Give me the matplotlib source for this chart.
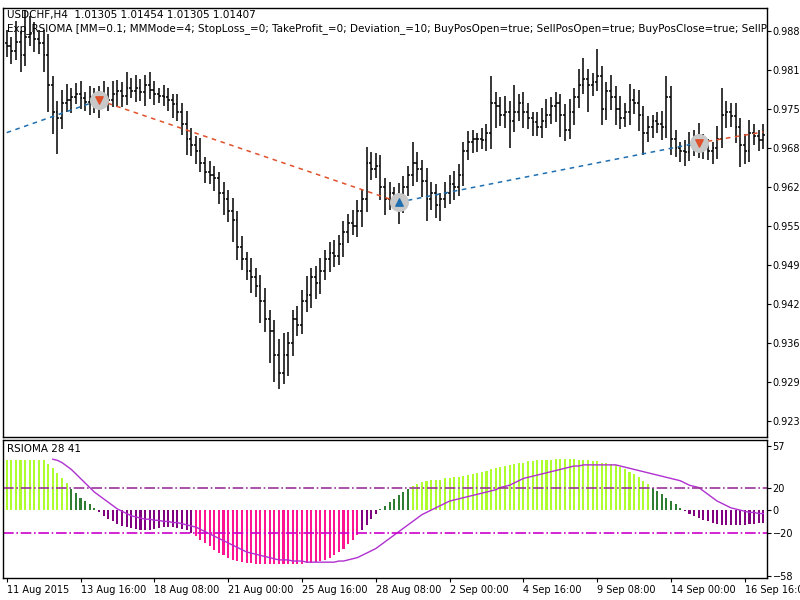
import numpy as np
import matplotlib
matplotlib.use("Agg")
import matplotlib.pyplot as plt

# ---- data (prices in pips: 9855 -> 0.9855) ----
closes = [9855, 9848, 9862, 9840, 9870, 9878, 9868, 9860, 9840, 9790,
          9745, 9735, 9760, 9765, 9770, 9775, 9768, 9762, 9770, 9762,
          9770, 9772, 9765, 9775, 9780, 9772, 9785, 9780, 9785, 9778,
          9790, 9782, 9775, 9772, 9770, 9765, 9758, 9745, 9725, 9700,
          9690, 9680, 9660, 9645, 9640, 9635, 9610, 9600, 9580, 9565,
          9520, 9500, 9480, 9470, 9455, 9430, 9400, 9380, 9340, 9310,
          9340, 9360, 9400, 9390, 9430, 9440, 9470, 9460, 9480, 9500,
          9510, 9505, 9525, 9545, 9560, 9555, 9580, 9600, 9660, 9650,
          9655, 9620, 9600, 9610, 9605, 9595, 9620, 9640, 9660, 9650,
          9630, 9600, 9610, 9590, 9600, 9610, 9625, 9620, 9640, 9680,
          9695, 9700, 9700, 9698, 9710, 9760, 9755, 9740, 9745, 9730,
          9745, 9760, 9745, 9735, 9728, 9720, 9730, 9740, 9755, 9760,
          9740, 9715, 9745, 9770, 9790, 9800, 9790, 9795, 9805, 9750,
          9780, 9770, 9750, 9735, 9745, 9765, 9760, 9740, 9710, 9720,
          9730, 9725, 9720, 9770, 9700, 9685, 9680, 9678, 9690, 9700,
          9690, 9685, 9680, 9685, 9700, 9740, 9745, 9738, 9720, 9690,
          9680, 9710, 9705, 9698, 9707]
# wick lengths beyond the open/close, in pips
up_wick = [22, 15, 36, 18, 45, 27, 18, 15, 22, 36, 15, 18, 22, 27, 15, 18, 22, 11, 18, 15,
           18, 25, 15, 22, 18, 15, 27, 18, 22, 15, 18, 22, 15, 11, 18, 15, 11, 18, 15, 22,
           18, 15, 22, 11, 18, 15, 11, 18, 15, 22, 15, 18, 11, 22, 15, 18, 22, 15, 18, 27,
           36, 18, 15, 22, 18, 32, 15, 18, 22, 15, 18, 22, 15, 18, 15, 22, 18, 15, 27, 18,
           22, 18, 15, 18, 11, 22, 18, 15, 36, 18, 15, 22, 18, 15, 11, 18, 15, 22, 18, 15,
           18, 15, 11, 18, 15, 45, 18, 15, 27, 18, 45, 15, 18, 15, 11, 18, 22, 27, 15, 18,
           15, 18, 22, 15, 27, 36, 18, 15, 45, 18, 15, 27, 18, 22, 15, 27, 18, 22, 15, 18,
           11, 15, 22, 36, 18, 15, 11, 18, 22, 15, 27, 18, 15, 11, 22, 45, 18, 15, 22, 15,
           18, 22, 15, 11, 18]
dn_wick = [18, 22, 15, 27, 18, 15, 22, 18, 27, 45, 36, 60, 18, 15, 22, 11, 18, 15, 22, 18,
           27, 15, 18, 11, 22, 18, 15, 11, 18, 15, 22, 15, 18, 11, 15, 18, 22, 15, 18, 27,
           18, 22, 15, 18, 15, 22, 18, 27, 18, 36, 22, 18, 15, 27, 18, 36, 22, 54, 45, 27,
           18, 36, 22, 18, 15, 18, 22, 27, 18, 15, 22, 18, 15, 22, 18, 15, 18, 27, 22, 18,
           15, 22, 27, 18, 22, 36, 18, 15, 18, 22, 27, 36, 18, 22, 27, 15, 18, 22, 15, 18,
           15, 18, 22, 15, 18, 27, 36, 18, 22, 45, 18, 15, 27, 18, 22, 15, 18, 11, 15, 27,
           36, 18, 15, 22, 18, 15, 45, 18, 15, 27, 18, 22, 27, 18, 15, 22, 18, 27, 36, 15,
           18, 15, 22, 18, 27, 15, 18, 22, 15, 18, 22, 18, 15, 22, 18, 15, 22, 18, 27, 36,
           22, 18, 15, 18, 15]

hist = [44, 44, 44, 44, 44, 44, 44, 44, 44, 41,
        37, 33, 28, 24, 19, 15, 11, 8, 5, 2,
        -2, -5, -8, -10, -12, -14, -15, -16, -17, -18,
        -18, -18, -17, -16, -15, -15, -15, -16, -17, -18,
        -20, -23, -26, -29, -32, -35, -38, -40, -42, -44,
        -45, -46, -47, -47, -48, -48, -48, -48, -48, -48,
        -48, -48, -48, -48, -48, -47, -47, -46, -45, -44,
        -42, -40, -37, -34, -30, -26, -22, -18, -13, -8,
        -3, 1, 4, 7, 10, 13, 16, 19, 21, 23,
        25, 26, 27, 27, 27, 28, 28, 29, 29, 30,
        31, 32, 33, 34, 35, 36, 37, 38, 39, 40,
        41, 42, 42, 43, 43, 44, 44, 44, 44, 45,
        45, 45, 45, 45, 44, 44, 44, 43, 43, 42,
        42, 41, 40, 38, 36, 34, 32, 29, 26, 23,
        20, 17, 14, 11, 8, 5, 2, -1, -3, -5,
        -7, -9, -10, -11, -12, -13, -13, -13, -13, -13,
        -13, -12, -12, -11, -11]
signal = [np.nan] * 10 + [
    45, 44, 42, 39, 36, 32, 28, 24, 20, 16,
    13, 10, 7, 4, 1, -1, -3, -5, -6, -7,
    -8, -8, -9, -9, -10, -10, -11, -11, -12, -13,
    -14, -15, -17, -19, -21, -23, -25, -27, -29, -31,
    -33, -35, -37, -38, -39, -40, -41, -42, -43, -44,
    -44, -44, -45, -45, -45, -46, -46, -46, -46, -46,
    -46, -46, -45, -45, -44, -43, -42, -40, -38, -36,
    -34, -31, -28, -25, -22, -19, -16, -13, -10, -7,
    -4, -2, 0, 2, 4, 6, 8, 9, 10, 11,
    12, 13, 14, 15, 16, 17, 18, 20, 21, 22,
    24, 26, 28, 29, 30, 31, 32, 33, 34, 35,
    36, 37, 38, 39, 39, 40, 40, 40, 40, 40,
    40, 40, 40, 39, 38, 37, 36, 35, 34, 33,
    32, 31, 30, 29, 28, 27, 26, 24, 22, 21,
    20, 17, 14, 11, 8, 6, 4, 2, 1, 0,
    -1, -2, -2, -3, -3]

deal_bars = [0, 20, 85, 150, 164]
deal_prices = [0.9711, 0.9765, 0.9595, 0.9694, 0.9712]
deal_colors = ["#1f6fb0", "#e0502a", "#1f6fb0", "#e0502a"]
deal_arrows = ["v", "^", "v"]

price_ticks = [0.9880, 0.9815, 0.9750, 0.9685, 0.9620, 0.9555, 0.9490, 0.9425, 0.9360, 0.9295, 0.9230]
price_labels = ["0.98800", "0.98150", "0.97500", "0.96850", "0.96200", "0.95550",
                "0.94900", "0.94250", "0.93600", "0.92950", "0.92300"]
date_labels = ["11 Aug 2015", "13 Aug 16:00", "18 Aug 08:00", "21 Aug 00:00", "25 Aug 16:00",
               "28 Aug 08:00", "2 Sep 00:00", "4 Sep 16:00", "9 Sep 08:00", "14 Sep 00:00",
               "16 Sep 16:00"]

c = np.array(closes) / 10000.0
o = np.concatenate([[c[0] + 0.0005], c[:-1]])
h = np.maximum(o, c) + np.array(up_wick) / 10000.0
l = np.minimum(o, c) - np.array(dn_wick) / 10000.0
n = len(c)
x = np.arange(n)

fig = plt.figure(figsize=(8, 6), dpi=100)
ax = fig.add_axes([3 / 800, 163 / 600, 764 / 800, 429 / 600])
ax2 = fig.add_axes([3 / 800, 22 / 600, 764 / 800, 138 / 600])

for a in (ax, ax2):
    a.set_xlim(-0.8, n - 0.2)
    a.yaxis.tick_right()
    a.tick_params(axis="y", labelsize=7, length=3, pad=1)
    for s in a.spines.values():
        s.set_linewidth(1)

# OHLC bars
ax.vlines(x, l, h, color="black", lw=1.1)
ax.hlines(o, x - 0.4, x, color="black", lw=1.1)
ax.hlines(c, x, x + 0.4, color="black", lw=1.1)

# deals
for i in range(len(deal_bars) - 1):
    ax.plot(deal_bars[i:i + 2], deal_prices[i:i + 2], ls=(0, (3, 3)), lw=1.1, color=deal_colors[i])
for b, p, m in zip(deal_bars[1:-1], deal_prices[1:-1], deal_arrows):
    ax.scatter([b], [p], s=160, color="#c8c8c8", zorder=4)
    ax.scatter([b], [p], s=28, marker=m, color="#e0502a" if m == "v" else "#1f6fb0", zorder=5)

ax.set_ylim(0.9203, 0.9919)
ax.set_yticks(price_ticks)
ax.set_yticklabels(price_labels)
ax.set_xticks([])
ax.text(0.005, 0.995, "USDCHF,H4  1.01305 1.01454 1.01305 1.01407", transform=ax.transAxes,
        fontsize=7.5, va="top", ha="left")
ax.text(0.005, 0.965, "Exp_RSIOMA [MM=0.1; MMMode=4; StopLoss_=0; TakeProfit_=0; Deviation_=10; "
        "BuyPosOpen=true; SellPosOpen=true; BuyPosClose=true; SellPosClose=true; SignalBar=1]",
        transform=ax.transAxes, fontsize=7.5, va="top", ha="left", clip_on=True)

# RSIOMA histogram
hv = np.array(hist)
cols = ["#adff2f" if v > 20 else "#2e7d32" if v >= 0 else "#800080" if v >= -20 else "#ff1493" for v in hv]
ax2.bar(x, hv, width=0.45, color=cols)
ax2.plot(x, signal, color="#b030d0", lw=1)
ax2.axhline(20, color="#993399", lw=1.2, ls="-.")
ax2.axhline(-20, color="#cc00cc", lw=1.2, ls="-.")
ax2.set_ylim(-60, 62)
ax2.set_yticks([57, 20, 0, -20, -58])
ax2.set_xticks(np.arange(0, n, 16))
ax2.set_xticklabels(date_labels, ha="left")
ax2.tick_params(axis="x", labelsize=7, length=3, pad=2)
ax2.text(0.005, 0.97, "RSIOMA 28 41", transform=ax2.transAxes, fontsize=7.5, va="top", ha="left")

fig.savefig("out.png", dpi=100)
